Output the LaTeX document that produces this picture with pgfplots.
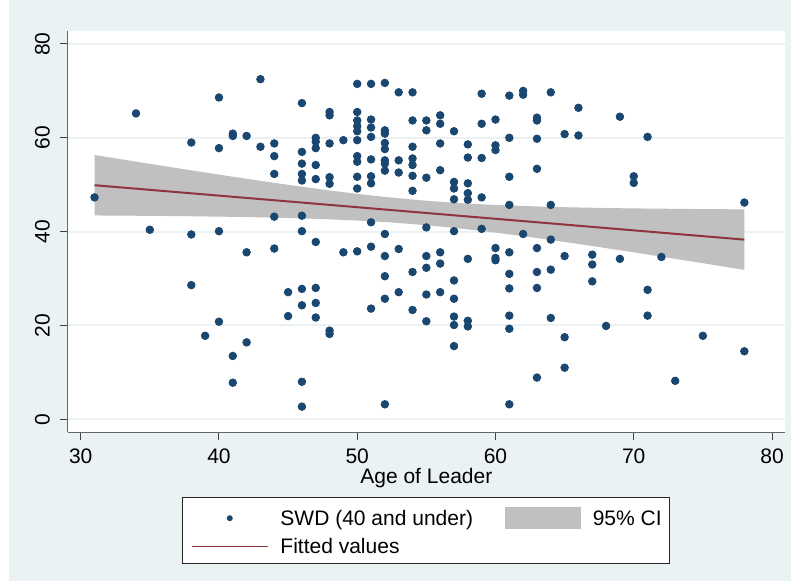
\documentclass[border=0pt]{standalone}
\usepackage{pgfplots}
\pgfplotsset{compat=1.18}
\usepackage{fontspec}
\setmainfont{Liberation Sans}
\definecolor{bgc}{RGB}{234,242,243}
\definecolor{navy}{RGB}{26,71,111}
\definecolor{maroon}{RGB}{144,53,59}
\definecolor{cigray}{RGB}{192,192,192}

\begin{document}
\begin{tikzpicture}
\fill[white] (-33.85pt,-74.35pt) rectangle (361.65pt,216.15pt);
\fill[bgc] (-29.35pt,-74.35pt) rectangle (361.65pt,216.15pt);
\begin{axis}[
  at={(0,0)}, anchor=south west,
  scale only axis, width=358.65pt, height=200.8pt,
  xmin=29.06, xmax=80.94, ymin=-2.77, ymax=82.84,
  axis x line*=bottom, axis y line*=left,
  axis line style={black!60, line width=0.6pt},
  axis background/.style={fill=white},
  xtick={30,40,...,80}, ytick={0,20,...,80},
  tick align=outside, major tick length=3.9pt,
  tick style={black!75, line width=0.5pt},
  ymajorgrids, major grid style={bgc, line width=1pt},
  font=\fontsize{10.5pt}{12pt}\selectfont,
  /pgf/number format/assume math mode=true,
  yticklabel style={rotate=90, anchor=south},
  yticklabel shift=1.5pt,
  xticklabel shift=0.8pt,
  xlabel={Age of Leader},
  xlabel style={at={(axis description cs:0.5,-0.1277)}, anchor=base},
  legend columns=2,
  legend cell align=left,
  legend style={at={(0.5,-0.1619)}, anchor=north, draw=black!85, line width=0.5pt,
    fill=white, inner xsep=4.15pt, inner ysep=4.7pt, row sep=4.7pt,
    nodes={inner sep=0pt, text height=7.6pt, text depth=0pt},
    /tikz/every odd column/.style={column sep=6pt},
    /tikz/every even column/.style={column sep=15.85pt},
    font=\fontsize{10.5pt}{12pt}\selectfont},
]
\addplot[only marks, mark=*, mark size=1.9pt, color=navy,
  legend image code/.code={\path[draw=none,fill=none] (0pt,-3pt) rectangle (38pt,3pt); \fill[navy,draw=none] (19pt,0pt) circle (1.5pt);}]
table {
31 47.3
34 65.2
35 40.4
38 59.0
38 39.4
38 28.6
39 17.8
40 68.6
40 57.8
40 40.1
40 20.8
41 60.9
41 60.4
41 13.5
41 7.8
42 60.4
42 35.6
42 16.4
43 72.5
43 58.1
44 58.8
44 56.1
44 52.3
44 43.2
44 36.4
45 27.1
45 22.0
46 67.4
46 57.0
46 54.5
46 52.3
46 50.9
46 43.4
46 40.1
46 27.8
46 24.3
46 8.0
46 2.7
47 60.0
47 59.2
47 57.8
47 54.2
47 51.2
47 37.8
47 28.0
47 24.8
47 21.7
48 65.5
48 64.8
48 58.8
48 51.6
48 50.2
48 18.9
48 18.2
49 59.5
49 35.6
50 71.5
50 65.5
50 63.7
50 62.5
50 61.4
50 59.5
50 56.1
50 54.9
50 51.7
50 49.2
50 35.8
51 71.5
51 63.9
51 62.2
51 60.2
51 55.4
51 51.8
51 50.3
51 42.0
51 36.8
51 23.6
52 71.7
52 61.6
52 60.9
52 58.9
52 57.6
52 55.2
52 54.5
52 53.0
52 39.5
52 34.8
52 30.5
52 25.7
52 3.2
53 69.7
53 55.2
53 52.6
53 36.3
53 27.1
54 69.7
54 63.7
54 58.1
54 55.6
54 54.2
54 51.9
54 48.7
54 31.4
54 23.3
55 63.7
55 61.6
55 51.5
55 40.9
55 34.8
55 32.3
55 26.6
55 20.9
56 64.8
56 63.0
56 58.8
56 53.1
56 35.6
56 33.2
56 27.1
57 61.4
57 50.6
57 49.2
57 46.9
57 40.1
57 29.6
57 25.7
57 21.9
57 20.1
57 15.6
58 58.6
58 55.8
58 50.3
58 48.2
58 46.8
58 34.2
58 21.0
58 19.8
59 69.4
59 63.0
59 55.7
59 47.3
59 40.6
60 63.9
60 58.4
60 57.4
60 36.5
60 34.4
60 33.9
61 69.0
61 60.0
61 51.7
61 45.7
61 35.6
61 31.0
61 27.9
61 22.1
61 19.3
61 3.2
62 70.0
62 69.2
62 39.5
63 64.3
63 63.7
63 59.8
63 53.4
63 36.5
63 31.4
63 28.0
63 8.9
64 69.7
64 45.7
64 38.3
64 31.9
64 21.6
65 60.8
65 34.8
65 17.5
65 11.0
66 66.4
66 60.5
67 35.1
67 33.0
67 29.4
68 19.9
69 64.5
69 34.2
70 51.8
70 50.4
71 60.2
71 27.6
71 22.1
72 34.6
73 8.2
75 17.8
78 46.2
78 14.5
};
\addlegendentry{SWD (40 and under)}
\addplot[fill=cigray, draw=none,
  legend image code/.code={\fill[cigray,draw=none] (0pt,-5.5pt) rectangle (38pt,5.5pt);}]
coordinates {
(31,56.35) (33,55.40) (35,54.46) (37.5,53.30) (40,52.16) (42.5,51.04) (45,49.98)
(47.5,48.97) (50,48.05) (52.5,47.25) (55,46.58) (57.5,46.07) (60,45.68) (62.5,45.42)
(65,45.21) (67.5,45.06) (70,44.95) (72.5,44.88) (75,44.81) (78,44.75)
(78,31.85) (75,33.27) (72.5,34.44) (70,35.59) (67.5,36.72) (65,37.81) (62.5,38.84)
(60,39.80) (57.5,40.65) (55,41.38) (52.5,41.95) (50,42.37) (47.5,42.69) (45,42.92)
(42.5,43.08) (40,43.20) (37.5,43.30) (35,43.36) (33,43.42) (31,43.45)
} -- cycle;
\addlegendentry{95\% CI}
\addplot[maroon, line width=1pt,
  legend image code/.code={\draw[maroon, line width=0.7pt] (0pt,0pt) -- (38pt,0pt);}]
coordinates {(31,49.9) (78,38.3)};
\addlegendentry{Fitted values}
\end{axis}
\end{tikzpicture}
\end{document}
